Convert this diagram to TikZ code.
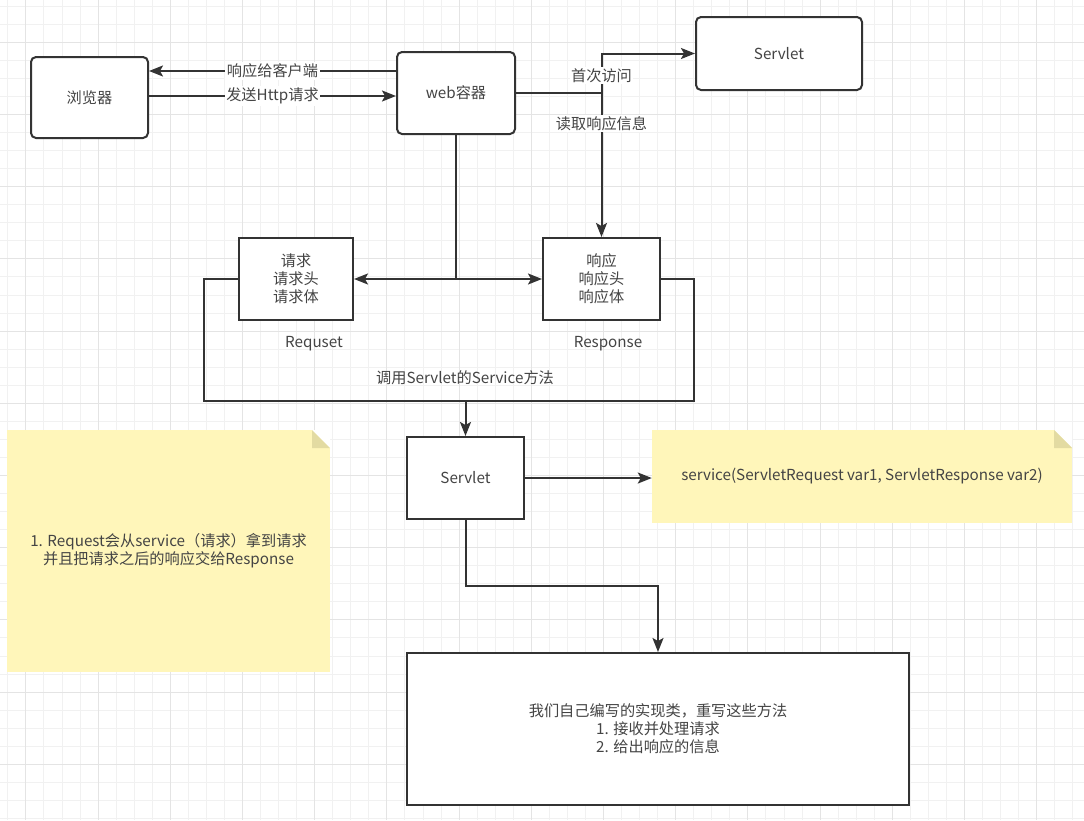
\documentclass[tikz,border=0pt]{standalone}
\usepackage{fontspec}
\newfontfamily\cjk{Noto Sans CJK SC}
\usepackage{tikz}
\usetikzlibrary{positioning, arrows.meta, calc}

\definecolor{ink}{HTML}{333333}
\definecolor{txtgray}{HTML}{444444}
\definecolor{gridminor}{HTML}{F1F1F1}
\definecolor{gridmajor}{HTML}{E4E4E4}
\definecolor{notefill}{HTML}{FFF6BA}
\definecolor{notefold}{HTML}{E3DBA2}

\begin{document}
\begin{tikzpicture}[
  x=1pt, y=-1pt,
  font=\cjk\fontsize{15.2}{18}\selectfont,
  every node/.style={text=txtgray},
  box/.style={draw=ink, line width=2pt, fill=white, align=center, inner sep=0pt},
  rbox/.style={box, rounded corners=5pt},
  note/.style={fill=notefill, align=center, inner sep=0pt,
    path picture={
      \fill[white] ($(path picture bounding box.north east)+(-18,0)$)
        -- (path picture bounding box.north east)
        -- ($(path picture bounding box.north east)+(0,18)$) -- cycle;
      \fill[notefold] ($(path picture bounding box.north east)+(-18,0)$)
        -- ($(path picture bounding box.north east)+(-18,18)$)
        -- ($(path picture bounding box.north east)+(0,18)$) -- cycle;
    }},
  lbl/.style={fill=white, inner sep=1.5pt},
  wire/.style={draw=ink, line width=2pt},
  arrow/.style={wire, -{Stealth[length=14pt, width=11pt, inset=3pt]}},
  gridline/.style={gridminor, line width=1pt},
  gridbold/.style={gridmajor, line width=1pt},
]
  \useasboundingbox (0,0) rectangle (1084,820);
  \fill[white] (0,0) rectangle (1084,820);

  % background grid
  \foreach \i in {0,...,59} {
    \pgfmathsetmacro\gx{7.85+18.05*\i}
    \draw[gridline] (\gx,0) -- (\gx,820);
  }
  \foreach \j in {0,...,45} {
    \pgfmathsetmacro\gy{6.2+18.05*\j}
    \draw[gridline] (0,\gy) -- (1084,\gy);
  }
  \foreach \i in {0,...,14} {
    \pgfmathsetmacro\gx{25.9+72.2*\i}
    \draw[gridbold] (\gx,0) -- (\gx,820);
  }
  \foreach \j in {0,...,10} {
    \pgfmathsetmacro\gy{42.3+72.2*\j}
    \draw[gridbold] (0,\gy) -- (1084,\gy);
  }

  % boxes
  \node[rbox, minimum width=117pt, minimum height=81pt] (browser) at (89.5,97.5) {浏览器};
  \node[rbox, minimum width=118pt, minimum height=82pt] (web) at (456,93) {web容器};
  \node[rbox, minimum width=166pt, minimum height=73pt] (srvtop) at (779,53.5) {Servlet};
  \node[box, minimum width=114pt, minimum height=82pt] (req) at (296,279) {请求\\请求头\\请求体};
  \node[box, minimum width=117pt, minimum height=82pt] (resp) at (601.5,279) {响应\\响应头\\响应体};
  \node[box, minimum width=117pt, minimum height=82pt] (srv) at (465.5,478) {Servlet};
  \node[box, minimum width=502pt, minimum height=152pt] (impl) at (658,729)
    {我们自己编写的实现类，重写这些方法\\1. 接收并处理请求\\2. 给出响应的信息};

  % notes
  \node[note, minimum width=420pt, minimum height=93pt] (svcnote) at (862,476.5)
    {service(ServletRequest var1, ServletResponse var2)};
  \node[note, minimum width=323pt, minimum height=242pt] (reqnote) at (168.5,551)
    {1. Request会从service（请求）拿到请求\\并且把请求之后的响应交给Response};

  \node (reqlbl) at (314,344) {Requset};
  \node (resplbl) at (608,344) {Response};

  % connectors
  \draw[arrow] ([yshift=22pt]web.west) -- node[lbl]{响应给客户端} ([yshift=22pt]web.west -| browser.east);
  \draw[arrow] ([yshift=-3pt]web.west -| browser.east) -- node[lbl]{发送Http请求} ([yshift=-3pt]web.west);

  \coordinate (fork) at (resp.north |- web.east);
  \draw[arrow] (web.east) -- (fork) |- node[lbl, pos=0.22]{首次访问} (srvtop.west);
  \draw[arrow] (fork) -- node[lbl, pos=0.21]{读取响应信息} (resp.north);

  \coordinate (split) at (web.south |- req.east);
  \draw[wire] (web.south) -- (split);
  \draw[arrow] (split) -- (req.east);
  \draw[arrow] (split) -- (resp.west);

  \coordinate (loopL) at (204,401);
  \coordinate (loopR) at (694,401);
  \draw[wire] (req.west) -| (loopL) -- (loopR) |- (resp.east);
  \node (calllbl) at (465,378) {调用Servlet的Service方法};
  \draw[arrow] (srv.north |- loopL) -- (srv.north);

  \draw[arrow] (srv.east) -- (srv.east -| svcnote.west);
  \draw[arrow] (srv.south) -- ++(0,66) -| (impl.north);
\end{tikzpicture}
\end{document}
